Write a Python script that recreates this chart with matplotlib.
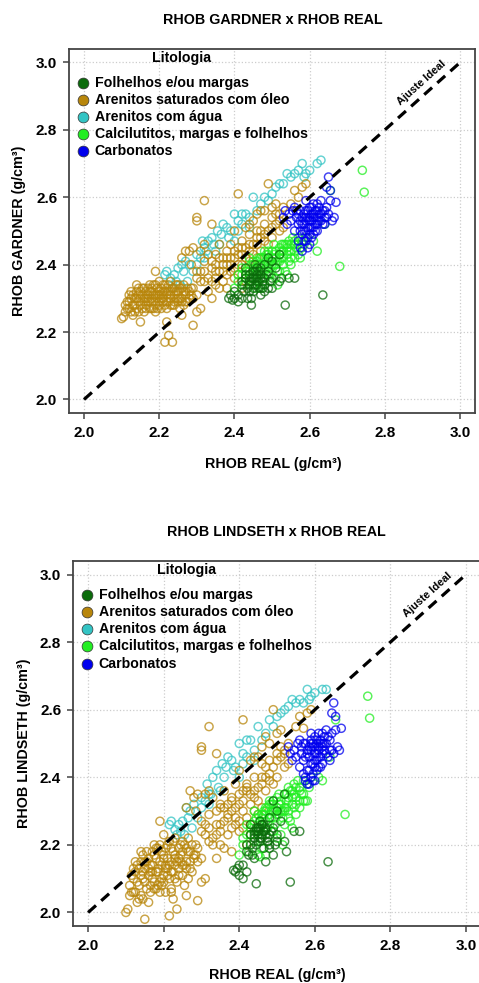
import matplotlib
matplotlib.use("Agg")
import matplotlib.pyplot as plt

plt.rcParams['font.family'] = ['Liberation Sans', 'DejaVu Sans']
plt.rcParams['font.weight'] = 'bold'

# ---- data: x = RHOB REAL, yg = Gardner, yl = Lindseth ----
folhelhos_x = [2.385, 2.390, 2.395, 2.400, 2.410, 2.420, 2.430, 2.435, 2.440, 2.445,
               2.445, 2.450, 2.455, 2.460, 2.460, 2.465, 2.470, 2.475, 2.480, 2.480,
               2.490, 2.490, 2.500, 2.500, 2.510, 2.520, 2.525, 2.535, 2.545, 2.560,
               2.635, 2.430, 2.440, 2.455, 2.470, 2.420, 2.520, 2.490,
               2.430, 2.445, 2.450, 2.460, 2.465, 2.470, 2.480, 2.440, 2.455, 2.400,
               2.480, 2.500, 2.420, 2.435, 2.450,
               2.440, 2.450, 2.455, 2.460, 2.465, 2.470, 2.475, 2.485, 2.425, 2.410,
               2.495, 2.445]
folhelhos_yg = [2.300, 2.310, 2.295, 2.320, 2.290, 2.340, 2.360, 2.330, 2.370, 2.280,
                2.350, 2.380, 2.340, 2.360, 2.390, 2.330, 2.370, 2.350, 2.400, 2.340,
                2.330, 2.380, 2.360, 2.410, 2.390, 2.350, 2.360, 2.280, 2.360, 2.360,
                2.310, 2.390, 2.320, 2.400, 2.310, 2.300, 2.430, 2.420,
                2.370, 2.360, 2.330, 2.370, 2.350, 2.390, 2.360, 2.340, 2.360, 2.300,
                2.320, 2.330, 2.350, 2.300, 2.320,
                2.350, 2.360, 2.380, 2.340, 2.380, 2.360, 2.330, 2.370, 2.320, 2.310,
                2.350, 2.300]
folhelhos_yl = [2.125, 2.120, 2.130, 2.140, 2.100, 2.180, 2.200, 2.170, 2.220, 2.085,
                2.240, 2.250, 2.210, 2.230, 2.260, 2.190, 2.245, 2.220, 2.280, 2.200,
                2.170, 2.250, 2.230, 2.300, 2.270, 2.210, 2.180, 2.090, 2.240, 2.240,
                2.150, 2.260, 2.160, 2.270, 2.150, 2.120, 2.350, 2.330,
                2.230, 2.250, 2.210, 2.260, 2.240, 2.250, 2.230, 2.240, 2.220, 2.110,
                2.190, 2.210, 2.200, 2.190, 2.230,
                2.230, 2.240, 2.250, 2.220, 2.260, 2.230, 2.210, 2.240, 2.170, 2.140,
                2.200, 2.200]

oleo_x = [2.100, 2.105, 2.110, 2.115, 2.120, 2.125, 2.130, 2.130, 2.135, 2.140,
          2.145, 2.150, 2.150, 2.155, 2.160, 2.160, 2.165, 2.170, 2.170, 2.175,
          2.180, 2.180, 2.185, 2.190, 2.190, 2.195, 2.200, 2.200, 2.205, 2.210,
          2.210, 2.215, 2.220, 2.220, 2.225, 2.230, 2.230, 2.235, 2.240, 2.245,
          2.250, 2.250, 2.255, 2.260, 2.265, 2.270, 2.275, 2.280, 2.140, 2.160,
          2.175, 2.195, 2.215, 2.235, 2.255, 2.185, 2.165, 2.205, 2.145, 2.190,
          2.215, 2.225, 2.235, 2.220, 2.290, 2.260, 2.300, 2.310,
          2.280, 2.290, 2.285, 2.300, 2.300, 2.300, 2.310, 2.320, 2.320, 2.330,
          2.340, 2.340, 2.350, 2.350, 2.360, 2.360, 2.370, 2.370, 2.380, 2.380,
          2.390, 2.390, 2.400, 2.400, 2.410, 2.410, 2.420, 2.420, 2.430, 2.430,
          2.440, 2.440, 2.450, 2.450, 2.460, 2.460, 2.470, 2.470, 2.480, 2.480,
          2.490, 2.490, 2.500, 2.500, 2.510, 2.510, 2.520, 2.530, 2.550, 2.560,
          2.580, 2.590, 2.570, 2.530, 2.320, 2.330, 2.310, 2.270, 2.260, 2.350,
          2.360, 2.380, 2.340, 2.410, 2.430, 2.450, 2.470, 2.490, 2.400, 2.420,
          2.320, 2.290, 2.300, 2.330,
          2.120, 2.125, 2.135, 2.140, 2.150, 2.155, 2.160, 2.170, 2.175, 2.180,
          2.185, 2.190, 2.195, 2.200, 2.205, 2.210, 2.215, 2.220, 2.225, 2.230,
          2.240, 2.240, 2.245, 2.250, 2.260, 2.265, 2.270, 2.275, 2.285, 2.290,
          2.165, 2.145, 2.200, 2.230, 2.110, 2.130,
          2.350, 2.370, 2.390, 2.410, 2.440, 2.460, 2.480, 2.500, 2.520, 2.440,
          2.460, 2.380, 2.340, 2.310, 2.400, 2.430, 2.420,
          2.115, 2.125, 2.135, 2.145, 2.150, 2.155, 2.165, 2.170, 2.180, 2.185,
          2.195, 2.200, 2.205, 2.210, 2.220, 2.225, 2.230, 2.240, 2.245, 2.250,
          2.255, 2.260, 2.265, 2.270, 2.280, 2.285, 2.120, 2.140, 2.175, 2.190,
          2.300, 2.320, 2.340, 2.350, 2.360, 2.370, 2.380, 2.390, 2.400, 2.410,
          2.420, 2.430, 2.440, 2.450, 2.460, 2.470, 2.480, 2.500, 2.510, 2.520]
oleo_yg = [2.240, 2.245, 2.260, 2.290, 2.270, 2.300, 2.280, 2.310, 2.260, 2.300,
           2.290, 2.320, 2.230, 2.270, 2.300, 2.330, 2.280, 2.310, 2.290, 2.320,
           2.270, 2.300, 2.340, 2.280, 2.310, 2.330, 2.290, 2.320, 2.270, 2.300,
           2.340, 2.280, 2.310, 2.330, 2.290, 2.300, 2.320, 2.280, 2.310, 2.340,
           2.290, 2.320, 2.300, 2.330, 2.280, 2.310, 2.290, 2.320, 2.270, 2.260,
           2.290, 2.300, 2.320, 2.330, 2.270, 2.310, 2.320, 2.310, 2.310, 2.380,
           2.170, 2.190, 2.170, 2.230, 2.220, 2.250, 2.260, 2.270,
           2.440, 2.450, 2.400, 2.380, 2.530, 2.540, 2.350, 2.590, 2.410, 2.360,
           2.520, 2.390, 2.430, 2.340, 2.380, 2.460, 2.400, 2.350, 2.440, 2.370,
           2.420, 2.460, 2.390, 2.500, 2.610, 2.430, 2.470, 2.400, 2.510, 2.450,
           2.490, 2.410, 2.530, 2.460, 2.500, 2.420, 2.560, 2.480, 2.520, 2.560,
           2.640, 2.500, 2.540, 2.570, 2.580, 2.520, 2.550, 2.510, 2.580, 2.620,
           2.630, 2.640, 2.600, 2.570, 2.460, 2.430, 2.440, 2.440, 2.420, 2.400,
           2.330, 2.330, 2.300, 2.370, 2.380, 2.400, 2.440, 2.460, 2.440, 2.430,
           2.380, 2.330, 2.310, 2.320,
           2.290, 2.260, 2.300, 2.320, 2.280, 2.310, 2.290, 2.330, 2.270, 2.320,
           2.290, 2.340, 2.270, 2.310, 2.330, 2.290, 2.340, 2.270, 2.320, 2.280,
           2.290, 2.330, 2.300, 2.340, 2.300, 2.320, 2.290, 2.330, 2.310, 2.300,
           2.300, 2.330, 2.350, 2.350, 2.280, 2.250,
           2.360, 2.420, 2.380, 2.450, 2.440, 2.460, 2.470, 2.480, 2.500, 2.520,
           2.550, 2.400, 2.350, 2.380, 2.360, 2.350, 2.330,
           2.270, 2.320, 2.280, 2.260, 2.300, 2.330, 2.270, 2.300, 2.330, 2.270,
           2.310, 2.280, 2.300, 2.320, 2.290, 2.340, 2.310, 2.280, 2.320, 2.300,
           2.330, 2.290, 2.340, 2.320, 2.300, 2.330, 2.310, 2.340, 2.340, 2.260,
           2.360, 2.350, 2.410, 2.380, 2.420, 2.380, 2.420, 2.400, 2.420, 2.400,
           2.450, 2.420, 2.460, 2.430, 2.480, 2.500, 2.490, 2.510, 2.550, 2.530]
oleo_yl = [2.000, 2.010, 2.050, 2.110, 2.060, 2.120, 2.090, 2.140, 2.040, 2.110,
           2.100, 2.150, 1.980, 2.070, 2.130, 2.160, 2.080, 2.140, 2.100, 2.170,
           2.070, 2.120, 2.190, 2.090, 2.150, 2.180, 2.110, 2.160, 2.060, 2.130,
           2.200, 2.100, 2.150, 2.190, 2.120, 2.140, 2.170, 2.090, 2.160, 2.200,
           2.110, 2.180, 2.140, 2.190, 2.100, 2.150, 2.120, 2.170, 2.050, 2.030,
           2.090, 2.100, 2.140, 2.150, 2.080, 2.130, 2.140, 2.140, 2.120, 2.270,
           1.990, 2.040, 2.010, 2.060, 2.035, 2.050, 2.090, 2.100,
           2.340, 2.350, 2.300, 2.270, 2.480, 2.490, 2.230, 2.550, 2.290, 2.220,
           2.470, 2.260, 2.320, 2.200, 2.270, 2.360, 2.290, 2.230, 2.340, 2.250,
           2.310, 2.380, 2.270, 2.420, 2.570, 2.330, 2.380, 2.280, 2.450, 2.350,
           2.400, 2.300, 2.460, 2.370, 2.440, 2.310, 2.520, 2.400, 2.450, 2.500,
           2.600, 2.430, 2.470, 2.530, 2.540, 2.460, 2.480, 2.440, 2.550, 2.580,
           2.590, 2.600, 2.545, 2.500, 2.360, 2.340, 2.350, 2.360, 2.310, 2.310,
           2.190, 2.180, 2.160, 2.250, 2.260, 2.290, 2.360, 2.380, 2.350, 2.360,
           2.250, 2.190, 2.160, 2.200,
           2.100, 2.060, 2.130, 2.150, 2.090, 2.150, 2.110, 2.180, 2.070, 2.160,
           2.120, 2.200, 2.080, 2.170, 2.190, 2.110, 2.210, 2.070, 2.180, 2.100,
           2.130, 2.190, 2.150, 2.210, 2.150, 2.180, 2.130, 2.200, 2.170, 2.150,
           2.120, 2.170, 2.230, 2.220, 2.080, 2.030,
           2.240, 2.320, 2.260, 2.360, 2.340, 2.380, 2.390, 2.400, 2.430, 2.460,
           2.490, 2.300, 2.230, 2.260, 2.240, 2.230, 2.200,
           2.060, 2.150, 2.080, 2.040, 2.130, 2.180, 2.060, 2.120, 2.190, 2.080,
           2.140, 2.090, 2.130, 2.160, 2.120, 2.210, 2.160, 2.110, 2.170, 2.140,
           2.200, 2.130, 2.220, 2.180, 2.160, 2.200, 2.130, 2.180, 2.200, 2.060,
           2.240, 2.210, 2.300, 2.260, 2.310, 2.280, 2.330, 2.280, 2.320, 2.300,
           2.370, 2.320, 2.360, 2.330, 2.400, 2.430, 2.410, 2.450, 2.490, 2.470]

agua_x = [2.215, 2.220, 2.230, 2.235, 2.245, 2.255, 2.260, 2.270, 2.275, 2.280,
          2.290, 2.300, 2.310, 2.315, 2.320, 2.330, 2.340, 2.350, 2.355, 2.360,
          2.370, 2.380, 2.390, 2.400, 2.400, 2.410, 2.420, 2.430, 2.440, 2.450,
          2.460, 2.480, 2.500, 2.510, 2.520, 2.530, 2.540, 2.550, 2.570, 2.580,
          2.585, 2.590, 2.620, 2.630, 2.250,
          2.240, 2.265, 2.300, 2.325, 2.345, 2.365, 2.385, 2.410, 2.420, 2.440,
          2.470, 2.490, 2.560, 2.600, 2.320]
agua_yg = [2.370, 2.380, 2.360, 2.330, 2.350, 2.340, 2.400, 2.410, 2.350, 2.400,
           2.380, 2.430, 2.420, 2.470, 2.450, 2.470, 2.480, 2.440, 2.500, 2.460,
           2.520, 2.510, 2.500, 2.550, 2.470, 2.530, 2.520, 2.550, 2.510, 2.600,
           2.560, 2.600, 2.610, 2.630, 2.640, 2.640, 2.670, 2.660, 2.680, 2.700,
           2.660, 2.670, 2.700, 2.710, 2.390,
           2.370, 2.380, 2.400, 2.440, 2.460, 2.490, 2.480, 2.500, 2.550, 2.540,
           2.580, 2.590, 2.670, 2.680, 2.420]
agua_yl = [2.260, 2.270, 2.245, 2.230, 2.240, 2.230, 2.310, 2.300, 2.250, 2.320,
           2.280, 2.340, 2.330, 2.380, 2.350, 2.400, 2.420, 2.360, 2.440, 2.400,
           2.460, 2.450, 2.430, 2.500, 2.400, 2.470, 2.460, 2.510, 2.450, 2.550,
           2.510, 2.570, 2.580, 2.590, 2.600, 2.610, 2.630, 2.620, 2.620, 2.660,
           2.630, 2.640, 2.660, 2.660, 2.270,
           2.260, 2.280, 2.310, 2.350, 2.370, 2.430, 2.420, 2.440, 2.510, 2.480,
           2.530, 2.550, 2.630, 2.650, 2.320]

calci_x = [2.400, 2.410, 2.420, 2.425, 2.430, 2.440, 2.445, 2.450, 2.455, 2.460,
           2.465, 2.470, 2.475, 2.480, 2.485, 2.490, 2.495, 2.500, 2.505, 2.510,
           2.515, 2.520, 2.525, 2.530, 2.535, 2.540, 2.545, 2.550, 2.555, 2.560,
           2.565, 2.570, 2.575, 2.580, 2.590, 2.610, 2.540, 2.520, 2.500, 2.480,
           2.460, 2.435, 2.490, 2.510, 2.550, 2.530, 2.740, 2.745, 2.680, 2.655,
           2.640, 2.620, 2.455, 2.470, 2.515, 2.440,
           2.450, 2.460, 2.470, 2.480, 2.490, 2.500, 2.510, 2.520, 2.530, 2.540,
           2.550, 2.560, 2.570, 2.545, 2.525, 2.505, 2.485, 2.465, 2.475, 2.495,
           2.515, 2.560, 2.580, 2.535, 2.455,
           2.410, 2.420, 2.430, 2.440, 2.450, 2.460, 2.470, 2.480, 2.490, 2.500,
           2.510, 2.520, 2.530, 2.540, 2.550, 2.560, 2.570, 2.585, 2.525, 2.505,
           2.485, 2.465, 2.545, 2.495, 2.475]
calci_yg = [2.330, 2.350, 2.370, 2.340, 2.380, 2.360, 2.400, 2.340, 2.390, 2.410,
            2.370, 2.400, 2.420, 2.380, 2.410, 2.430, 2.390, 2.420, 2.400, 2.440,
            2.410, 2.450, 2.420, 2.400, 2.460, 2.430, 2.470, 2.440, 2.480, 2.420,
            2.450, 2.430, 2.420, 2.470, 2.480, 2.470, 2.370, 2.380, 2.350, 2.440,
            2.350, 2.390, 2.370, 2.360, 2.400, 2.440, 2.680, 2.615, 2.395, 2.620,
            2.520, 2.440, 2.330, 2.330, 2.340, 2.420,
            2.380, 2.390, 2.380, 2.400, 2.400, 2.400, 2.420, 2.430, 2.420, 2.450,
            2.460, 2.470, 2.460, 2.410, 2.460, 2.430, 2.390, 2.400, 2.360, 2.410,
            2.380, 2.440, 2.450, 2.380, 2.370,
            2.370, 2.390, 2.360, 2.380, 2.410, 2.380, 2.420, 2.420, 2.440, 2.440,
            2.400, 2.410, 2.460, 2.460, 2.420, 2.460, 2.480, 2.460, 2.440, 2.460,
            2.430, 2.420, 2.440, 2.370, 2.340]
calci_yl = [2.170, 2.200, 2.230, 2.180, 2.250, 2.210, 2.280, 2.170, 2.270, 2.290,
            2.240, 2.300, 2.310, 2.260, 2.300, 2.320, 2.280, 2.310, 2.290, 2.330,
            2.300, 2.350, 2.310, 2.280, 2.360, 2.320, 2.380, 2.340, 2.390, 2.310,
            2.350, 2.330, 2.330, 2.380, 2.400, 2.400, 2.250, 2.260, 2.220, 2.330,
            2.190, 2.260, 2.240, 2.230, 2.290, 2.340, 2.640, 2.575, 2.290, 2.570,
            2.460, 2.390, 2.165, 2.170, 2.200, 2.300,
            2.250, 2.280, 2.270, 2.290, 2.300, 2.290, 2.320, 2.310, 2.300, 2.340,
            2.370, 2.370, 2.350, 2.310, 2.350, 2.320, 2.280, 2.290, 2.250, 2.300,
            2.280, 2.330, 2.330, 2.270, 2.240,
            2.220, 2.260, 2.230, 2.270, 2.290, 2.260, 2.310, 2.320, 2.330, 2.340,
            2.300, 2.300, 2.370, 2.360, 2.320, 2.360, 2.390, 2.370, 2.330, 2.350,
            2.320, 2.300, 2.350, 2.260, 2.210]

carbo_x = [2.530, 2.535, 2.540, 2.545, 2.550, 2.555, 2.560, 2.565, 2.570, 2.570,
           2.575, 2.575, 2.580, 2.580, 2.585, 2.585, 2.590, 2.590, 2.595, 2.595,
           2.600, 2.600, 2.600, 2.605, 2.605, 2.610, 2.610, 2.615, 2.615, 2.620,
           2.620, 2.625, 2.625, 2.630, 2.630, 2.635, 2.640, 2.640, 2.645, 2.650,
           2.655, 2.660, 2.665, 2.670, 2.645, 2.650, 2.655, 2.560, 2.590, 2.610,
           2.595, 2.585, 2.575, 2.605, 2.620, 2.580, 2.600,
           2.590, 2.595, 2.600, 2.605, 2.610, 2.610, 2.615, 2.620, 2.625, 2.630,
           2.635, 2.640, 2.580, 2.585, 2.590, 2.595, 2.575, 2.565, 2.570, 2.600,
           2.620, 2.645, 2.605, 2.615, 2.590]
carbo_yg = [2.540, 2.560, 2.520, 2.550, 2.530, 2.560, 2.500, 2.540, 2.470, 2.520,
            2.450, 2.560, 2.490, 2.540, 2.470, 2.520, 2.500, 2.560, 2.480, 2.540,
            2.510, 2.570, 2.460, 2.530, 2.550, 2.490, 2.580, 2.520, 2.560, 2.540,
            2.500, 2.570, 2.530, 2.550, 2.590, 2.520, 2.560, 2.540, 2.570, 2.550,
            2.590, 2.530, 2.540, 2.585, 2.630, 2.660, 2.620, 2.570, 2.590, 2.540,
            2.510, 2.550, 2.500, 2.480, 2.560, 2.440, 2.530,
            2.530, 2.560, 2.490, 2.570, 2.510, 2.550, 2.540, 2.520, 2.550, 2.530,
            2.560, 2.520, 2.520, 2.500, 2.470, 2.450, 2.530, 2.560, 2.550, 2.540,
            2.580, 2.540, 2.510, 2.500, 2.540]
carbo_yl = [2.490, 2.470, 2.450, 2.480, 2.460, 2.500, 2.430, 2.470, 2.410, 2.450,
            2.390, 2.500, 2.420, 2.480, 2.380, 2.460, 2.440, 2.510, 2.410, 2.490,
            2.450, 2.520, 2.390, 2.470, 2.500, 2.430, 2.530, 2.460, 2.510, 2.490,
            2.440, 2.520, 2.480, 2.500, 2.540, 2.460, 2.510, 2.450, 2.530, 2.470,
            2.540, 2.490, 2.480, 2.545, 2.590, 2.620, 2.580, 2.510, 2.530, 2.480,
            2.440, 2.490, 2.400, 2.420, 2.500, 2.380, 2.470,
            2.480, 2.500, 2.430, 2.510, 2.460, 2.490, 2.500, 2.470, 2.500, 2.470,
            2.520, 2.480, 2.470, 2.420, 2.400, 2.390, 2.460, 2.490, 2.500, 2.490,
            2.530, 2.480, 2.450, 2.430, 2.500]

legend_labels = ["Folhelhos e/ou margas", "Arenitos saturados com óleo",
                 "Arenitos com água", "Calcilutitos, margas e folhelhos",
                 "Carbonatos"]
colors = ["#0B6B0B", "#B8860B", "#33C4C4", "#22EE22", "#0000EE"]
ticks = [2.0, 2.2, 2.4, 2.6, 2.8, 3.0]


def plot_panel(ax, ys):
    """Draws one crossplot of estimated density against measured density"""
    # drawing order: water sands, oil sands, calcilutites, shales, carbonates
    xs = [agua_x, oleo_x, calci_x, folhelhos_x, carbo_x]
    order = [2, 1, 3, 0, 4]
    for k, i in enumerate(order):
        ax.scatter(xs[k], ys[k], s=34, facecolors='none',
                   edgecolors=colors[i], linewidths=1.05, alpha=0.75, zorder=3)

    # ideal fit line
    ax.plot([2.0, 3.0], [2.0, 3.0], color='black', lw=2.3,
            dashes=(3.3, 2.2), zorder=4)
    ax.text(2.897, 2.94, "Ajuste Ideal", rotation=41.8, fontsize=7.8,
            ha='center', va='center', rotation_mode='anchor', zorder=5)

    ax.set_xlim(1.96, 3.04)
    ax.set_ylim(1.96, 3.04)
    ax.set_xticks(ticks)
    ax.set_yticks(ticks)
    ax.set_xticklabels(["%.1f" % t for t in ticks])
    ax.set_yticklabels(["%.1f" % t for t in ticks])
    ax.tick_params(axis='both', labelsize=11, length=4.5, width=1.1,
                   color='#444444', direction='out')
    ax.tick_params(axis='x', pad=5)
    ax.tick_params(axis='y', pad=4)
    ax.grid(True, color='#CCCCCC', linestyle=':', linewidth=0.9, zorder=0)
    ax.set_axisbelow(True)
    for spine in ax.spines.values():
        spine.set_color('#444444')
        spine.set_linewidth(1.3)

    # legend drawn by hand, like R's legend() without a box
    ax.text(2.26, 3.013, "Litologia", ha='center', va='center', fontsize=10.2)
    leg_y = [2.94, 2.889, 2.838, 2.787, 2.736]
    for c, lab, yy in zip(colors, legend_labels, leg_y):
        ax.plot([1.996], [yy], marker='o', markersize=7.8, linestyle='none',
                markerfacecolor=c, markeredgecolor='#333333',
                markeredgewidth=0.5, zorder=6)
        ax.text(2.028, yy, lab, ha='left', va='center', fontsize=10.2,
                zorder=6)


fig = plt.figure(figsize=(4.79, 9.83), dpi=100)

ax1 = fig.add_axes([0.144, 0.5799, 0.848, 0.3703])
plot_panel(ax1, [agua_yg, oleo_yg, calci_yg, folhelhos_yg, carbo_yg])
ax2 = fig.add_axes([0.1524, 0.058, 0.852, 0.3713])
plot_panel(ax2, [agua_yl, oleo_yl, calci_yl, folhelhos_yl, carbo_yl])

fig.text(0.570, 1 - 20 / 983, "RHOB GARDNER x RHOB REAL", ha='center',
         va='center', fontsize=10.3)
fig.text(0.578, 1 - 532 / 983, "RHOB LINDSETH x RHOB REAL", ha='center',
         va='center', fontsize=10.3)
fig.text(0.570, 1 - 464 / 983, "RHOB REAL (g/cm³)", ha='center',
         va='center', fontsize=10.3)
fig.text(0.578, 1 - 975 / 983, "RHOB REAL (g/cm³)", ha='center',
         va='center', fontsize=10.3)
fig.text(19 / 479, 1 - 231 / 983, "RHOB GARDNER (g/cm³)", ha='center',
         va='center', rotation=90, fontsize=10.3)
fig.text(24 / 479, 1 - 743 / 983, "RHOB LINDSETH (g/cm³)", ha='center',
         va='center', rotation=90, fontsize=10.3)

fig.savefig("out.png", dpi=100)
